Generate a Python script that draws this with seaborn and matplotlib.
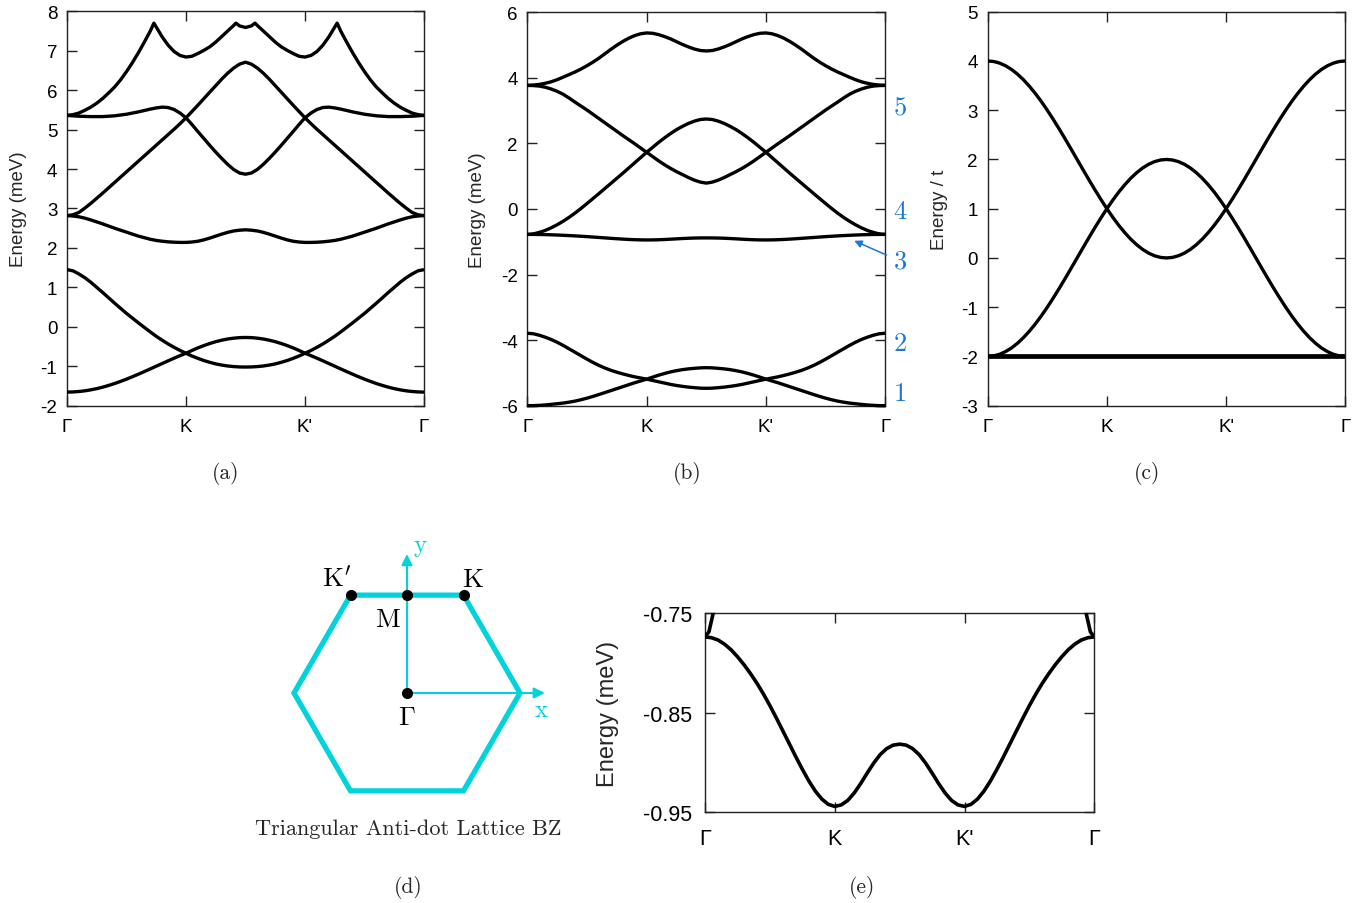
import numpy as np
import pandas as pd
import matplotlib
matplotlib.use("Agg")
import matplotlib.pyplot as plt
import seaborn as sns

# ---------------- data ----------------
# Band values read along the half path Γ -> K -> M (path coordinate 0 .. 1.5);
# the plotted path Γ -> K -> K' -> Γ is mirror symmetric about M (1.5).
K_TICKS = [0, 1, 2, 3]
K_LABELS = ["Γ", "K", "K'", "Γ"]
XH = [round(0.05 * i, 2) for i in range(31)]          # 0, 0.05, ..., 1.5

# panel (a) (meV)
A1 = [-1.655, -1.651, -1.640, -1.623, -1.598, -1.567, -1.530, -1.486, -1.438, -1.384, -1.327, -1.265, -1.201,
      -1.135, -1.067, -0.998, -0.930, -0.862, -0.795, -0.731, -0.670, -0.600, -0.534, -0.476, -0.423, -0.377,
      -0.339, -0.309, -0.288, -0.274, -0.270]
A2 = [1.45, 1.42, 1.34, 1.245, 1.13, 1.00, 0.87, 0.735, 0.60, 0.47, 0.34, 0.22, 0.10, -0.015, -0.13, -0.24,
      -0.34, -0.435, -0.52, -0.60, -0.67, -0.74, -0.80, -0.855, -0.90, -0.94, -0.97, -0.993, -1.008, -1.017, -1.02]
A3 = [2.82, 2.81, 2.79, 2.755, 2.71, 2.66, 2.61, 2.555, 2.50, 2.45, 2.40, 2.35, 2.30, 2.26, 2.22, 2.19, 2.17,
      2.155, 2.145, 2.14, 2.14, 2.15, 2.17, 2.205, 2.25, 2.30, 2.35, 2.395, 2.43, 2.45, 2.46]
A4 = [2.82, 2.84, 2.90, 3.01, 3.13, 3.26, 3.39, 3.525, 3.66, 3.795, 3.93, 4.065, 4.20, 4.335, 4.47, 4.605, 4.74,
      4.875, 5.01, 5.15, 5.30, 5.46, 5.62, 5.785, 5.95, 6.115, 6.28, 6.43, 6.56, 6.66, 6.71]
A5 = [5.36, 5.35, 5.34, 5.335, 5.33, 5.33, 5.33, 5.34, 5.35, 5.37, 5.39, 5.42, 5.45, 5.485, 5.52, 5.55, 5.57,
      5.56, 5.51, 5.42, 5.30, 5.13, 4.95, 4.775, 4.60, 4.43, 4.27, 4.12, 3.99, 3.90, 3.87]
A6_XH = [0.0, 0.05, 0.1, 0.15, 0.2, 0.25, 0.3, 0.35, 0.4, 0.45, 0.5, 0.55, 0.6, 0.65, 0.7, 0.73, 0.75, 0.8, 0.85,
         0.9, 0.95, 1.0, 1.05, 1.1, 1.15, 1.2, 1.25, 1.3, 1.35, 1.4, 1.42, 1.45, 1.5]
A6 = [5.36, 5.38, 5.42, 5.49, 5.57, 5.67, 5.79, 5.93, 6.08, 6.26, 6.47, 6.70, 6.95, 7.22, 7.50, 7.70, 7.60, 7.35,
      7.14, 6.98, 6.88, 6.84, 6.86, 6.93, 7.01, 7.10, 7.22, 7.36, 7.50, 7.64, 7.70, 7.63, 7.59]

# panel (b) (meV)
B1 = [-6.00, -5.998, -5.99, -5.977, -5.96, -5.94, -5.92, -5.892, -5.86, -5.818, -5.77, -5.717, -5.66, -5.60,
      -5.54, -5.48, -5.42, -5.36, -5.30, -5.245, -5.19, -5.13, -5.07, -5.017, -4.97, -4.932, -4.90, -4.877, -4.86,
      -4.846, -4.84]
B2 = [-3.79, -3.805, -3.85, -3.91, -3.98, -4.065, -4.16, -4.265, -4.37, -4.475, -4.58, -4.68, -4.77, -4.85, -4.92,
      -4.978, -5.03, -5.077, -5.12, -5.155, -5.19, -5.23, -5.27, -5.31, -5.35, -5.383, -5.41, -5.433, -5.45, -5.465,
      -5.47]
B3 = [-0.7740, -0.7748, -0.7771, -0.7812, -0.7868, -0.7938, -0.8018, -0.8107, -0.8204, -0.8312, -0.8429, -0.8554,
      -0.8683, -0.8813, -0.8943, -0.9068, -0.9185, -0.9287, -0.9367, -0.9420, -0.9441, -0.9426, -0.9381, -0.9306,
      -0.9211, -0.9106, -0.9006, -0.8921, -0.8861, -0.8826, -0.8816]
B4_XH = [0.0, 0.03, 0.06, 0.1, 0.15, 0.2, 0.25, 0.3, 0.35, 0.4, 0.45, 0.5, 0.55, 0.6, 0.65, 0.7, 0.75, 0.8, 0.85,
         0.9, 0.95, 1.0, 1.05, 1.1, 1.15, 1.2, 1.25, 1.3, 1.35, 1.4, 1.45, 1.5]
B4 = [-0.774, -0.769, -0.752, -0.714, -0.654, -0.574, -0.481, -0.374, -0.255, -0.124, 0.017, 0.166, 0.318, 0.47,
      0.625, 0.78, 0.935, 1.09, 1.25, 1.41, 1.57, 1.73, 1.88, 2.03, 2.17, 2.30, 2.42, 2.52, 2.61, 2.68, 2.73, 2.745]
B5 = [3.77, 3.765, 3.75, 3.715, 3.66, 3.59, 3.50, 3.385, 3.26, 3.14, 3.02, 2.89, 2.76, 2.63, 2.50, 2.37, 2.24,
      2.115, 1.99, 1.86, 1.73, 1.60, 1.47, 1.35, 1.24, 1.14, 1.05, 0.96, 0.88, 0.82, 0.79]
B6 = [3.77, 3.78, 3.80, 3.835, 3.88, 3.945, 4.02, 4.10, 4.18, 4.27, 4.37, 4.48, 4.60, 4.735, 4.87, 4.995, 5.11,
      5.21, 5.29, 5.345, 5.37, 5.36, 5.32, 5.26, 5.19, 5.105, 5.02, 4.945, 4.88, 4.835, 4.82]
B_LABELS = ["1", "2", "3", "4", "5"]
B_LABEL_E = [-5.61, -4.08, -1.59, -0.06, 3.08]

# panel (c) (units of t)
C1 = [4.000, 3.989, 3.956, 3.902, 3.827, 3.732, 3.618, 3.486, 3.338, 3.176, 3.000, 2.813, 2.618, 2.416, 2.209,
      2.000, 1.791, 1.584, 1.382, 1.187, 1.000, 0.824, 0.661, 0.514, 0.382, 0.268, 0.173, 0.098, 0.044, 0.011, 0.000]
C2 = [-2.000, -1.989, -1.956, -1.902, -1.827, -1.732, -1.618, -1.486, -1.338, -1.176, -1.000, -0.813, -0.618,
      -0.416, -0.209, 0.000, 0.209, 0.416, 0.618, 0.813, 1.000, 1.176, 1.339, 1.486, 1.618, 1.732, 1.827, 1.902,
      1.956, 1.989, 2.000]
C3 = [-2.0] * 31

# panel (d) Brillouin zone
BZ_X = [0.0, -0.5, -1.0, -0.5, 0.5, 1.0, 0.5, 0.0]
BZ_Y = [0.866, 0.866, 0.0, -0.866, -0.866, 0.0, 0.866, 0.866]
PT_NAMES = ["K'", "M", "K", "Γ"]
PT_X = [-0.5, 0.0, 0.5, 0.0]
PT_Y = [0.866, 0.866, 0.866, 0.0]


def full_x(xh):
    return list(xh) + [round(3.0 - v, 3) for v in reversed(xh[:-1])]


def full_y(yh):
    return list(yh) + list(reversed(yh[:-1]))


# ---------------- style ----------------
sns.set_theme(style="ticks")
plt.rcParams["font.family"] = ["Liberation Sans", "DejaVu Sans"]
plt.rcParams["mathtext.fontset"] = "cm"
plt.rcParams["axes.unicode_minus"] = False

W, H = 1365, 904
fig = plt.figure(figsize=(W / 100, H / 100), dpi=100)
BLUE = "#1a78d6"
CYAN = "#00d3dc"
SERIF = "cmr10"
LW = 2.4


def px_axes(l, t, r, b):
    return fig.add_axes([l / W, 1 - b / H, (r - l) / W, (b - t) / H])


def fx(x):
    return x / W


def fy(y):
    return 1 - y / H


def bands_df(xs_list, ys_list):
    frames = [pd.DataFrame({"k": full_x(xs), "E": full_y(ys), "band": i})
              for i, (xs, ys) in enumerate(zip(xs_list, ys_list))]
    return pd.concat(frames, ignore_index=True)


def draw_bands(ax, xs_list, ys_list, lw=LW, clip=True):
    n0 = len(ax.lines)
    sns.lineplot(data=bands_df(xs_list, ys_list), x="k", y="E", units="band", estimator=None,
                 sort=False, color="black", linewidth=lw, ax=ax, legend=False)
    for ln in ax.lines[n0:]:
        ln.set_clip_on(clip)
        ln.set_solid_capstyle("butt")
        ln.set_solid_joinstyle("round")


def style_axes(ax, ylim, yticks, yticklabels, ylabel, label_x, fs=13.5, lfs=13.5, xpad=9, ypad=7):
    ax.set_xlim(0, 3)
    ax.set_ylim(*ylim)
    ax.set_xticks(K_TICKS)
    ax.set_xticklabels(K_LABELS)
    ax.set_yticks(yticks)
    ax.set_yticklabels(yticklabels)
    ax.tick_params(direction="in", top=True, right=True, length=7, width=1.0,
                   color="#222222", labelcolor="black", labelsize=fs)
    ax.tick_params(axis="x", pad=xpad)
    ax.tick_params(axis="y", pad=ypad)
    ax.set_xlabel("")
    ax.set_ylabel(ylabel, fontsize=lfs, va="center")
    ax.yaxis.set_label_coords(label_x, 0.5)
    for s in ax.spines.values():
        s.set_linewidth(1.0)
        s.set_color("#222222")
        s.set_zorder(1)


# ---------------- (a) ----------------
axa = px_axes(67, 12.3, 424, 406.7)
draw_bands(axa, [XH, XH, XH, XH, XH, A6_XH], [A1, A2, A3, A4, A5, A6])
style_axes(axa, (-2, 8), list(range(-2, 9)), [str(v) for v in range(-2, 9)], "Energy (meV)", -0.137)

# ---------------- (b) ----------------
axb = px_axes(527.3, 13.3, 885.3, 406.7)
draw_bands(axb, [XH, XH, XH, B4_XH, XH, XH], [B1, B2, B3, B4, B5, B6], clip=False)
style_axes(axb, (-6, 6), list(range(-6, 7, 2)), [str(v) for v in range(-6, 7, 2)], "Energy (meV)", -0.138)
for lab, e in zip(B_LABELS, B_LABEL_E):
    if lab == "3":
        axb.annotate(lab, xy=(2.74, -0.97), xytext=(3.125, e), textcoords="data",
                     color=BLUE, fontsize=19, family=SERIF, ha="center", va="center",
                     annotation_clip=False,
                     arrowprops=dict(arrowstyle="-|>", color=BLUE, lw=1.1, mutation_scale=11,
                                     shrinkA=3, shrinkB=0))
    else:
        axb.text(3.125, e, lab, color=BLUE, fontsize=19, family=SERIF, ha="center", va="center",
                 clip_on=False)

# ---------------- (c) ----------------
axc = px_axes(987.7, 12.7, 1345.3, 406.7)
draw_bands(axc, [XH, XH], [C1, C2])
draw_bands(axc, [XH], [C3], lw=3.4)
style_axes(axc, (-3, 5), list(range(-3, 6)), [str(v) for v in range(-3, 6)], "Energy / t", -0.136)

# ---------------- (e) ----------------
axe = px_axes(705, 614, 1094.3, 813.3)
draw_bands(axe, [XH, B4_XH], [B3, B4], lw=2.6)
style_axes(axe, (-0.95, -0.75), [-0.95, -0.85, -0.75], ["-0.95", "-0.85", "-0.75"], "Energy (meV)", -0.249,
           fs=15.5, lfs=17, xpad=11, ypad=9)

# ---------------- (d) ----------------
R = 113.0
axd = px_axes(250, 520, 580, 810)
sns.lineplot(x=BZ_X, y=BZ_Y, sort=False, estimator=None, errorbar=None, color=CYAN, linewidth=3.8,
             ax=axd, legend=False)
axd.lines[-1].set_solid_joinstyle("miter")
axd.annotate("", xy=(1.22, 0), xytext=(0, 0),
             arrowprops=dict(arrowstyle="-|>", color=CYAN, lw=1.5, mutation_scale=16, shrinkA=0, shrinkB=0))
axd.annotate("", xy=(0, 1.23), xytext=(0, 0),
             arrowprops=dict(arrowstyle="-|>", color=CYAN, lw=1.5, mutation_scale=16, shrinkA=0, shrinkB=0))
sns.scatterplot(x=PT_X, y=PT_Y, color="black", s=64, edgecolor="black", linewidth=0, ax=axd, zorder=5,
                legend=False)
axd.set_xlim(-(407 - 250) / R, (580 - 407) / R)
axd.set_ylim(-(810 - 694) / R, (694 - 520) / R)
axd.axis("off")
label_pos = {"K'": (-0.622, 1.009), "M": (-0.168, 0.655), "K": (0.587, 1.009), "Γ": (0.0, -0.212)}
label_txt = {"K'": r"$\mathrm{K}'$", "M": r"$\mathrm{M}$", "K": r"$\mathrm{K}$", "Γ": r"$\Gamma$"}
for name in PT_NAMES:
    x, y = label_pos[name]
    axd.text(x, y, label_txt[name], fontsize=19.5, ha="center", va="center", color="black")
axd.text(1.192, -0.142, r"$\mathrm{x}$", fontsize=18, ha="center", va="center", color=CYAN)
axd.text(0.115, 1.30, r"$\mathrm{y}$", fontsize=18, ha="center", va="center", color=CYAN)
fig.text(fx(408), fy(829), "Triangular Anti-dot Lattice BZ", family=SERIF, fontsize=16,
         ha="center", va="center")

# ---------------- panel captions ----------------
for lab, (x, y) in zip(["(a)", "(b)", "(c)", "(d)", "(e)"],
                       [(226, 474), (687, 474), (1147, 474), (408, 888), (862, 888)]):
    fig.text(fx(x), fy(y), lab, family=SERIF, fontsize=15.5, ha="center", va="center")

fig.savefig("out.png", dpi=100, facecolor="white")
